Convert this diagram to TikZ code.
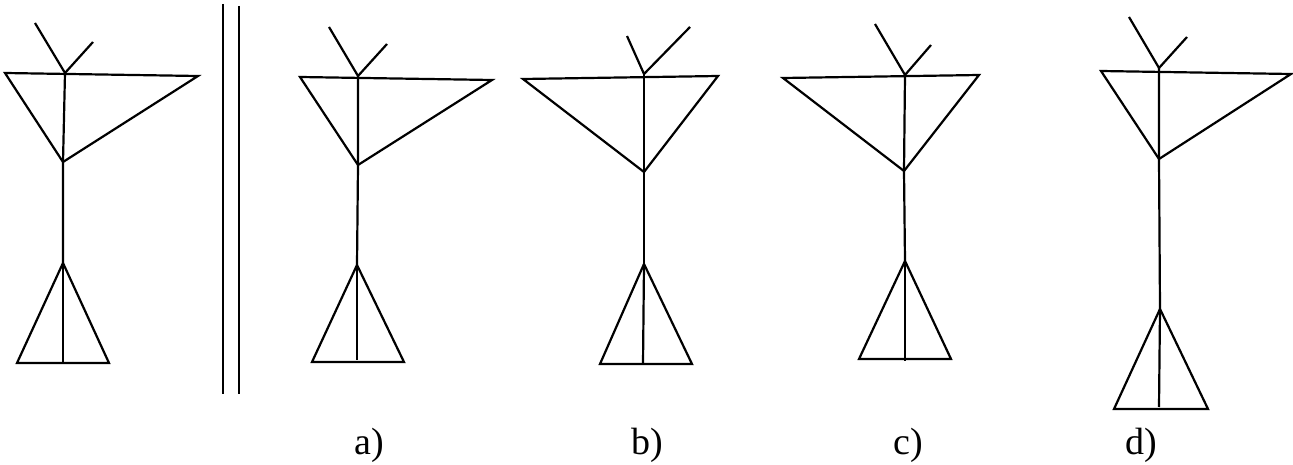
\documentclass[tikz,border=0pt]{standalone}
\usepackage{fontspec}
\setmainfont{Liberation Serif}
\begin{document}
\begin{tikzpicture}[x=1pt,y=-1pt,
  ln/.style={line width=2.2pt,black},
  lbl/.style={inner sep=0pt,font=\fontsize{38}{42}\selectfont}]
\useasboundingbox (0,0) rectangle (1293,465);
% figure 0
\coordinate (o-tl) at (35,23); \coordinate (o-tr) at (93,42); \coordinate (o-j) at (65,73);
\coordinate (o-L) at (5,73); \coordinate (o-R) at (198,76); \coordinate (o-v) at (63,162);
\coordinate (o-a) at (63,263); \coordinate (o-bl) at (17,363); \coordinate (o-br) at (109,363); \coordinate (o-bm) at (63,362);
% figure a
\coordinate (a-tl) at (329,27); \coordinate (a-tr) at (387,44); \coordinate (a-j) at (358,76);
\coordinate (a-L) at (300,77); \coordinate (a-R) at (492,80); \coordinate (a-v) at (358,165);
\coordinate (a-a) at (357,265); \coordinate (a-bl) at (312,362); \coordinate (a-br) at (404,362); \coordinate (a-bm) at (357,360);
% figure b
\coordinate (b-tl) at (627,36); \coordinate (b-tr) at (690,27); \coordinate (b-j) at (644,74);
\coordinate (b-L) at (523,79); \coordinate (b-R) at (718,76); \coordinate (b-v) at (644,172);
\coordinate (b-a) at (644,264); \coordinate (b-bl) at (600,364); \coordinate (b-br) at (692,364); \coordinate (b-bm) at (643,364);
% figure c
\coordinate (c-tl) at (875,24); \coordinate (c-tr) at (931,45); \coordinate (c-j) at (905,75);
\coordinate (c-L) at (783,78); \coordinate (c-R) at (979,75); \coordinate (c-v) at (904,171);
\coordinate (c-a) at (905,261); \coordinate (c-bl) at (859,359); \coordinate (c-br) at (951,359); \coordinate (c-bm) at (905,361);
% figure d
\coordinate (d-tl) at (1129,17); \coordinate (d-tr) at (1187,37); \coordinate (d-j) at (1159,68);
\coordinate (d-L) at (1101,71); \coordinate (d-R) at (1291,74); \coordinate (d-v) at (1159,159);
\coordinate (d-a) at (1160,309); \coordinate (d-bl) at (1114,409); \coordinate (d-br) at (1208,409); \coordinate (d-bm) at (1159,407);
\foreach \f in {o,a,b,c,d}{
  \draw[ln] (\f-tl) -- (\f-j) -- (\f-tr);
  \draw[ln] (\f-L) -- (\f-R) -- (\f-v) -- cycle;
  \draw[ln] (\f-j) -- (\f-v) -- (\f-a);
  \draw[ln] (\f-a) -- (\f-bl) -- (\f-br) -- cycle;
  \draw[ln] (\f-a) -- (\f-bm);
}
% separator
\coordinate (s1t) at (223,4); \coordinate (s1b) at (223,394);
\coordinate (s2t) at (239,6); \coordinate (s2b) at (239,394);
\draw[ln] (s1t) -- (s1b);
\draw[ln] (s2t) -- (s2b);
% labels
\node[lbl] (la) at (369,445) {a)};
\node[lbl] (lb) at (647,445) {b)};
\node[lbl] (lc) at (908,445) {c)};
\node[lbl] (ld) at (1141,445) {d)};
\end{tikzpicture}
\end{document}
